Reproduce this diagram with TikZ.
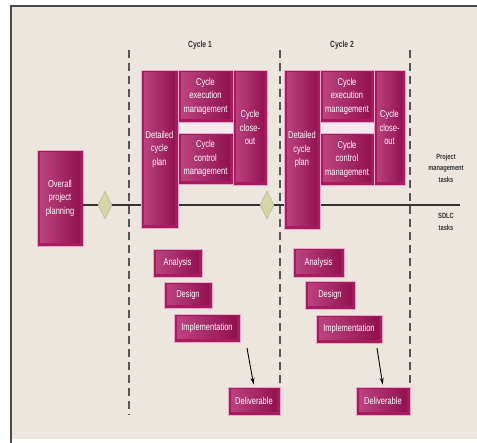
\documentclass[tikz,border=0pt]{standalone}
\usepackage{fontspec}
\setmainfont{Liberation Sans}[FakeStretch=0.75]
\usetikzlibrary{shapes.geometric,arrows.meta}
\definecolor{bg}{HTML}{ECE6DE}
\definecolor{frame}{HTML}{4A4A4A}
\definecolor{boxout}{HTML}{A81B60}
\definecolor{boxhalo}{HTML}{E9A9C8}
\definecolor{boxlight}{HTML}{BE4583}
\definecolor{boxdark}{HTML}{8F0E4D}
\definecolor{gapc}{HTML}{F5E9EE}
\definecolor{diafill}{HTML}{D5D6A6}
\definecolor{diadraw}{HTML}{B5B688}
\definecolor{labc}{HTML}{333333}
\definecolor{dashc}{HTML}{555555}
\begin{document}
\begin{tikzpicture}[x=1pt,y=-1pt,
  mbox/.style={rectangle, fill=boxout, draw=boxhalo, line width=0.6pt, inner sep=0pt,
    text=white, align=center, font=\fontsize{10}{13.5}\selectfont,
    path picture={\shade[left color=boxlight,right color=boxdark]
      ([shift={(3pt,-3pt)}]path picture bounding box.north west) rectangle
      ([shift={(-3pt,3pt)}]path picture bounding box.south east);}},
  tbox/.style={mbox, font=\fontsize{10}{11}\selectfont},
  milestone/.style={diamond, fill=diafill, draw=diadraw, line width=0.5pt, inner sep=0pt,
    minimum width=14pt, minimum height=28pt},
  dashline/.style={draw=dashc, line width=1.3pt, dash pattern=on 8pt off 5pt},
  hline/.style={draw=labc, line width=1.6pt},
  lab/.style={text=labc, align=center, inner sep=0pt},
  deliv/.style={-{Stealth[length=7pt,width=4pt]}, line width=0.9pt, shorten >=2pt}
]
\useasboundingbox (0,0) rectangle (477,443);
% background and frame
\fill[white] (0,0) rectangle (477,443);
\fill[bg] (12,7) rectangle (477,439);
\draw[frame, line width=2.5pt] (11,443) -- (11,6) -- (477,6);

% dashed cycle boundaries
\coordinate (v1t) at (129,50); \coordinate (v1b) at (129,415);
\coordinate (v2t) at (280,50); \coordinate (v2b) at (280,415);
\coordinate (v3t) at (410,50); \coordinate (v3b) at (410,415);
\draw[dashline] (v1t) -- (v1b);
\draw[dashline] (v2t) -- (v2b);
\draw[dashline] (v3t) -- (v3b);

% cycle labels
\node[lab, font=\fontsize{9}{10}\selectfont\bfseries] (cyc1) at (200,45) {Cycle 1};
\node[lab, font=\fontsize{9}{10}\selectfont\bfseries] (cyc2) at (342,45) {Cycle 2};

% overall planning
\node[mbox, minimum width=46pt, minimum height=96pt] (plan0) at (60,198) {Overall\\project\\planning};

% separator line
\coordinate (hlend) at (460,205);
\draw[hline] (plan0.east |- hlend) -- (hlend);

% milestones
\node[milestone] (ms1) at (105,205) {};
\node[milestone] (ms2) at (267,205) {};

% cycle 1 management boxes
\fill[gapc] (178,121) rectangle (233,134);
\node[mbox, minimum width=37pt, minimum height=158pt] (dp1) at (159.5,149) {Detailed\\cycle\\plan};
\node[mbox, minimum width=55pt, minimum height=52pt] (ex1) at (205.5,96) {Cycle\\execution\\management};
\node[mbox, minimum width=55pt, minimum height=51pt] (cc1) at (205.5,158.5) {Cycle\\control\\management};
\node[mbox, minimum width=34pt, minimum height=115pt] (co1) at (250,127.5) {Cycle\\close-\\out};

% cycle 2 management boxes
\fill[gapc] (320,121) rectangle (374,134);
\node[mbox, minimum width=36pt, minimum height=159pt] (dp2) at (302,149.5) {Detailed\\cycle\\plan};
\node[mbox, minimum width=54pt, minimum height=52pt] (ex2) at (347,96) {Cycle\\execution\\management};
\node[mbox, minimum width=54pt, minimum height=52pt] (cc2) at (347,159) {Cycle\\control\\management};
\node[mbox, minimum width=31pt, minimum height=115pt] (co2) at (389.5,127.5) {Cycle\\close-\\out};

% right labels
\node[lab, font=\fontsize{7.6}{11.5}\selectfont\bfseries] (pmt) at (446,168) {Project\\management\\tasks};
\node[lab, font=\fontsize{7.6}{11.5}\selectfont\bfseries] (sdlc) at (446,222) {SDLC\\tasks};

% cycle 1 SDLC tasks
\node[tbox, minimum width=49pt, minimum height=28pt] (an1) at (177.5,263) {Analysis};
\node[tbox, minimum width=48pt, minimum height=26pt] (de1) at (188,295) {Design};
\node[tbox, minimum width=66pt, minimum height=28pt] (im1) at (207,328) {Implementation};
\node[tbox, minimum width=52pt, minimum height=28pt] (dl1) at (254,401) {Deliverable};

% cycle 2 SDLC tasks
\node[tbox, minimum width=51pt, minimum height=29pt] (an2) at (318.5,262.5) {Analysis};
\node[tbox, minimum width=50pt, minimum height=28pt] (de2) at (330,295) {Design};
\node[tbox, minimum width=66pt, minimum height=28pt] (im2) at (349,329) {Implementation};
\node[tbox, minimum width=54pt, minimum height=28pt] (dl2) at (383,401) {Deliverable};

% deliverable arrows
\coordinate (ar1) at (247,348);
\coordinate (ar2) at (377,348);
\draw[deliv] (ar1) -- (dl1.north);
\draw[deliv] (ar2) -- (dl2.north);
\end{tikzpicture}
\end{document}
